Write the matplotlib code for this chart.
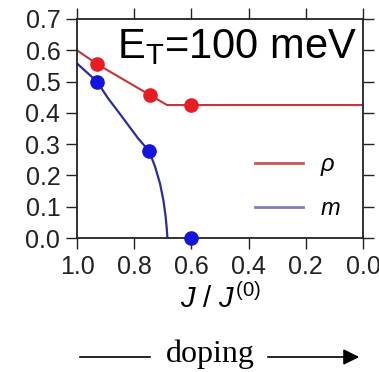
import matplotlib
matplotlib.use("Agg")
import matplotlib.pyplot as plt
from matplotlib.lines import Line2D
from matplotlib.patches import FancyArrowPatch

# data
rho_pts_x = [0.93, 0.745, 0.60]
rho_pts_y = [0.556, 0.457, 0.425]
rho_line_x = [1.00, 0.93, 0.745, 0.685, 0.60, 0.00]
rho_line_y = [0.600, 0.556, 0.457, 0.425, 0.425, 0.425]

m_pts_x = [0.93, 0.748, 0.60]
m_pts_y = [0.50, 0.278, 0.00]
m_line_x = [1.00, 0.93, 0.891, 0.856, 0.821, 0.786, 0.748, 0.727, 0.710, 0.698, 0.690, 0.686, 0.684]
m_line_y = [0.558, 0.50, 0.446, 0.404, 0.361, 0.318, 0.278, 0.228, 0.175, 0.121, 0.068, 0.028, 0.00]

xticks = [1.0, 0.8, 0.6, 0.4, 0.2, 0.0]
yticks = [0.0, 0.1, 0.2, 0.3, 0.4, 0.5, 0.6, 0.7]

plt.rcParams['font.family'] = ['Liberation Sans', 'DejaVu Sans']
plt.rcParams['mathtext.fontset'] = 'custom'
plt.rcParams['mathtext.rm'] = 'Liberation Sans'
plt.rcParams['mathtext.it'] = 'Liberation Sans:italic'

W, H = 379, 372
fig = plt.figure(figsize=(W/100, H/100), dpi=100)
L, R, T, B = 77, 363, 19, 238
ax = fig.add_axes([L/W, 1-B/H, (R-L)/W, (B-T)/H])

red_line = '#c4343a'
blue_line = '#2c2c9c'
ax.plot(rho_line_x, rho_line_y, color=red_line, lw=1.5, zorder=2)
ax.plot(m_line_x, m_line_y, color=blue_line, lw=1.6, zorder=2)
ax.plot(rho_pts_x, rho_pts_y, 'o', color='#e81c24', ms=9.5, zorder=3, clip_on=False)
ax.plot(m_pts_x, m_pts_y, 'o', color='#1414dc', ms=9.5, zorder=3, clip_on=False)

ax.set_xlim(1.0, 0.0)
ax.set_ylim(0.0, 0.7)
ax.set_xticks(xticks)
ax.set_yticks(yticks)
ax.set_xticklabels(['%.1f' % v for v in xticks])
ax.set_yticklabels(['%.1f' % v for v in yticks])
ax.tick_params(direction='out', length=8, width=1.0, labelsize=18, color='#222222',
               top=True, right=True, labeltop=False, labelright=False, pad=4,
               labelcolor='#222222')
for s in ax.spines.values():
    s.set_linewidth(1.3)
    s.set_color('#222222')

# legend
lr = Line2D([], [], color='#cc5555', lw=2.0)
lb = Line2D([], [], color='#8080c0', lw=2.0)
ax.legend([lr, lb], [r'$\rho$', r'$m$'], loc='lower right', frameon=False,
          fontsize=17, handlelength=2.0, handletextpad=0.75,
          bbox_to_anchor=((341-L)/(R-L), (B-220)/(B-T)), borderaxespad=0,
          borderpad=0, labelspacing=0.85)

ax.text((117-L)/(R-L), (B-58)/(B-T), r'E$_\mathrm{T}$=100 meV', transform=ax.transAxes,
        fontsize=30, ha='left', va='baseline', zorder=5, color='black')

ax.set_xlabel(r'$J\ /\ J^{(0)}$', fontsize=21)
ax.xaxis.set_label_coords(0.5, (B-283)/(B-T))

# doping arrow annotation
fig.text(210/W, 1-362/H, 'doping', family='Liberation Serif', fontsize=23,
         ha='center', va='baseline')
fig.add_artist(Line2D([80/W, 150/W], [1-357/H, 1-357/H], color='black', lw=1.2))
fig.add_artist(FancyArrowPatch((265/W, 1-357/H), (362/W, 1-357/H),
                               transform=fig.transFigure, arrowstyle='-|>',
                               mutation_scale=24, color='black', lw=1.2))

fig.text(0.0, 1-12/H, ')', color='#5070b0', fontsize=12, ha='right', va='center')

fig.savefig('out.png', dpi=100, facecolor='white')
